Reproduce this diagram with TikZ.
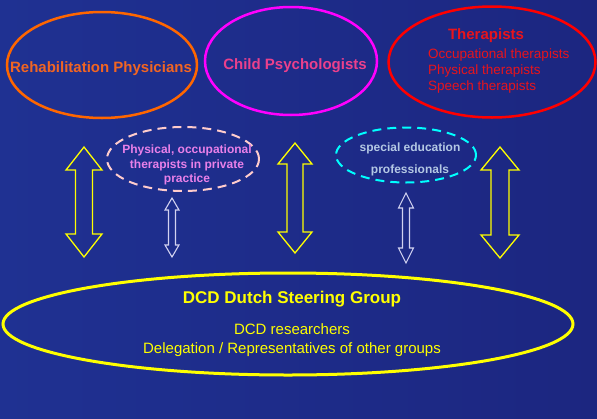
\documentclass[tikz,border=0pt]{standalone}
\usepackage{fontspec}
\setmainfont{Liberation Sans}
\usetikzlibrary{shapes.geometric}
\definecolor{bgL}{RGB}{31,49,146}
\definecolor{bgR}{RGB}{28,38,128}
\definecolor{orng}{RGB}{255,102,0}
\definecolor{orngtxt}{RGB}{242,101,34}
\definecolor{magen}{RGB}{255,0,255}
\definecolor{pinktxt}{RGB}{236,64,140}
\definecolor{redl}{RGB}{255,0,0}
\definecolor{redtxt}{RGB}{232,20,28}
\definecolor{pinkdash}{RGB}{255,204,204}
\definecolor{violtxt}{RGB}{233,128,233}
\definecolor{cyanl}{RGB}{0,255,255}
\definecolor{greytxt}{RGB}{180,200,228}
\definecolor{yel}{RGB}{255,255,0}
\definecolor{lav}{RGB}{210,210,240}
\newcommand\dblarr[7]{%
  \draw[#7] (#1,#2) -- ({#1+#4},{#2+#6}) -- ({#1+#5},{#2+#6}) -- ({#1+#5},{#3-#6})
    -- ({#1+#4},{#3-#6}) -- (#1,#3) -- ({#1-#4},{#3-#6}) -- ({#1-#5},{#3-#6})
    -- ({#1-#5},{#2+#6}) -- ({#1-#4},{#2+#6}) -- cycle;}
\tikzset{
  grp/.style={ellipse, inner sep=0pt, line width=2.5pt},
  dashgrp/.style={ellipse, inner sep=0pt, line width=2pt, dash pattern=on 9pt off 6pt},
  bigarr/.style={draw=yel, line width=1.3pt, line join=miter},
  smallarr/.style={draw=lav, line width=1.1pt, line join=miter},
}
\begin{document}
\begin{tikzpicture}[x=1pt,y=-1pt]
\shade[left color=bgL, right color=bgR] (0,0) rectangle (597,418);
\useasboundingbox (0,0) rectangle (597,418);
% top ellipses
\node[grp, draw=orng, minimum width=190pt, minimum height=106pt] (rehab) at (102,65) {};
\node[font=\bfseries\fontsize{15}{18}\selectfont, text=orngtxt] (rehabt) at (101,69) {Rehabilitation Physicians};
\node[grp, draw=magen, minimum width=172pt, minimum height=108pt] (child) at (291,61) {};
\node[font=\bfseries\fontsize{15}{18}\selectfont, text=pinktxt] (childt) at (295,66) {Child Psychologists};
\node[grp, draw=redl, minimum width=207pt, minimum height=111pt] (ther) at (492,62) {};
\node[font=\bfseries\fontsize{15}{18}\selectfont, text=redtxt] (thert) at (486,36) {Therapists};
\node[font=\fontsize{13.5}{16}\selectfont, text=redtxt, align=left, anchor=north west, inner sep=0pt] (therl) at (428,49)
  {Occupational therapists\\Physical therapists\\Speech therapists};
% dashed ellipses
\node[dashgrp, draw=pinkdash, minimum width=152pt, minimum height=64pt] (priv) at (183,159) {};
\node[font=\bfseries\fontsize{12}{14.5}\selectfont, text=violtxt, align=center] (privt) at (187,165)
  {Physical, occupational\\therapists in private\\practice};
\node[dashgrp, draw=cyanl, minimum width=140pt, minimum height=55pt] (spec) at (406,155) {};
\node[font=\bfseries\fontsize{12}{22}\selectfont, text=greytxt, align=center] (spect) at (410,159)
  {special education\\professionals};
% bottom ellipse
\node[ellipse, inner sep=0pt, line width=3pt, draw=yel, minimum width=570pt, minimum height=102pt] (dcd) at (288,324) {};
\node[font=\bfseries\fontsize{17}{20}\selectfont, text=yel] (dcdt) at (292,299) {DCD Dutch Steering Group};
\node[font=\fontsize{15}{19}\selectfont, text=yel, align=center] (dcdl) at (292,340)
  {DCD researchers\\Delegation / Representatives of other groups};
% arrows
\dblarr{84}{147}{257}{18}{8.5}{23}{bigarr}
\dblarr{295}{143}{253}{17}{8}{21}{bigarr}
\dblarr{500}{147}{258}{19}{9}{23}{bigarr}
\dblarr{172}{198}{257}{7}{3.5}{12}{smallarr}
\dblarr{406}{193}{263}{7.5}{3.5}{15}{smallarr}
\end{tikzpicture}
\end{document}
